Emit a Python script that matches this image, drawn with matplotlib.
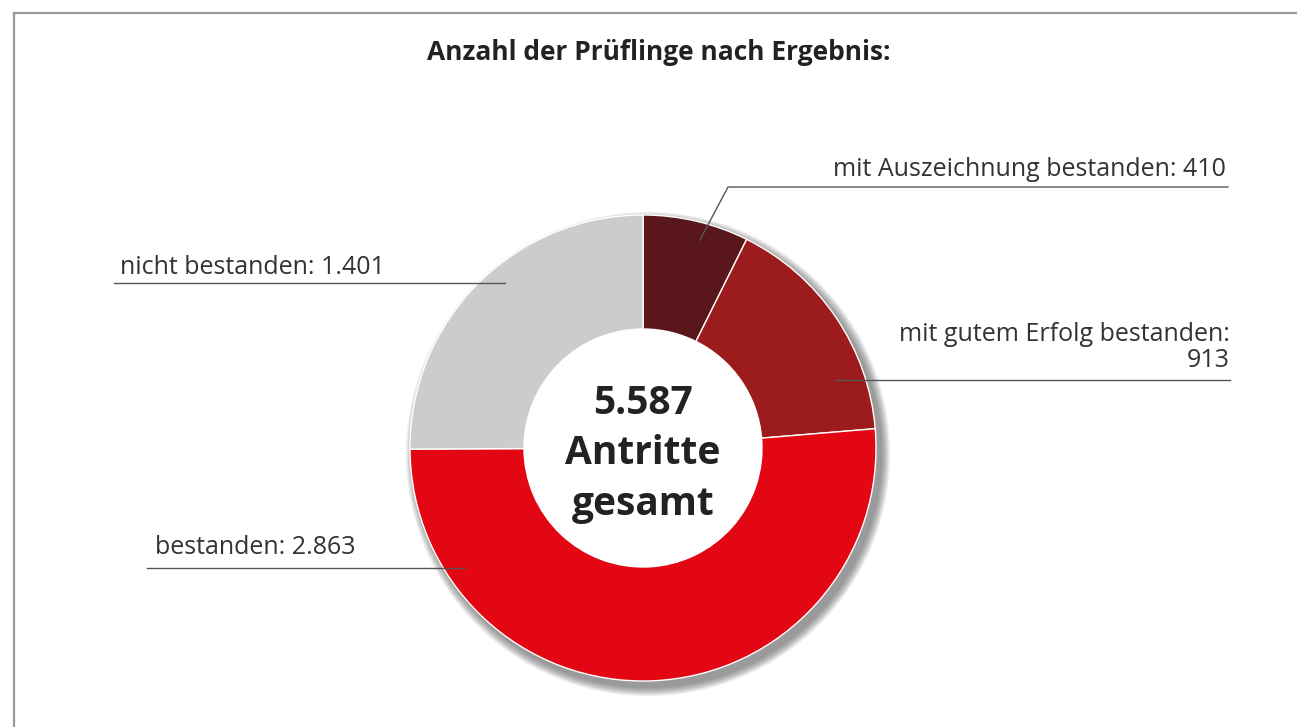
import numpy as np
import matplotlib.pyplot as plt
from matplotlib.patches import Wedge, Circle

# Daten
segmente = ['mit Auszeichnung bestanden', 'mit gutem Erfolg bestanden', 'bestanden', 'nicht bestanden']
werte = [410, 913, 2863, 1401]
beschriftung = ['mit Auszeichnung bestanden: 410', 'mit gutem Erfolg bestanden:\n913',
                'bestanden: 2.863', 'nicht bestanden: 1.401']
farben = ['#59161b', '#9c1b1d', '#e30613', '#cccccc']
gesamt_text = '5.587\nAntritte\ngesamt'
titel = 'Anzahl der Prüflinge nach Ergebnis:'

W, H = 1297, 727
plt.rcParams['font.family'] = ['Open Sans', 'DejaVu Sans']

fig = plt.figure(figsize=(W / 100, H / 100), dpi=100)
ax = fig.add_axes([0, 0, 1, 1])

# Pixel -> Datenkoordinaten (y nach oben)
def py(y):
    return H - y

cx, cy, r_out, r_in = 643, py(448), 233, 119

# weicher Schatten unten rechts
for i in range(10):
    ax.add_patch(Wedge((cx + 5, cy - 6), r_out + 1 + i * 0.9, 0, 360, width=r_out - r_in,
                       facecolor='#444444', edgecolor='none', alpha=0.07, zorder=1))

wedges, _ = ax.pie(werte, colors=farben, startangle=90, counterclock=False,
                   radius=r_out, center=(cx, cy),
                   wedgeprops=dict(width=r_out - r_in, edgecolor='white', linewidth=1))
for w in wedges:
    w.set_zorder(2)
ax.add_patch(Circle((cx, cy), r_in, facecolor='white', edgecolor='none', zorder=3))

ax.text(cx, py(454), gesamt_text, ha='center', va='center', fontsize=28, fontweight='bold',
        color='#222222', linespacing=1.38, zorder=4)

# Rahmen
ax.plot([14, W], [py(13), py(13)], color='#9a9a9a', lw=1.6, zorder=5)
ax.plot([14, 14], [py(13), 0], color='#9a9a9a', lw=1.6, zorder=5)

ax.text(659, py(53), titel, ha='center', va='center', fontsize=19, fontweight='bold',
        color='#222222')

lc = '#555555'
tc = '#333333'
fs = 18
# mit Auszeichnung
ax.plot([1228, 728, 700], [py(187), py(187), py(240)], color=lc, lw=1, zorder=5)
ax.text(1226, py(176), beschriftung[0], ha='right', va='baseline', fontsize=fs, color=tc)
# mit gutem Erfolg
ax.plot([1230, 835], [py(380), py(380)], color=lc, lw=1, zorder=5)
ax.text(1230, py(367), beschriftung[1], ha='right', va='baseline', fontsize=fs, color=tc,
        multialignment='right', linespacing=1.05)
# bestanden
ax.plot([147, 465], [py(568), py(568)], color=lc, lw=1, zorder=5)
ax.text(155, py(554), beschriftung[2], ha='left', va='baseline', fontsize=fs, color=tc)
# nicht bestanden
ax.plot([114, 505], [py(283), py(283)], color=lc, lw=1, zorder=5)
ax.text(120, py(274), beschriftung[3], ha='left', va='baseline', fontsize=fs, color=tc)

ax.set_xlim(0, W)
ax.set_ylim(0, H)
ax.set_aspect('equal')
ax.axis('off')

fig.savefig('out.png', dpi=100)
